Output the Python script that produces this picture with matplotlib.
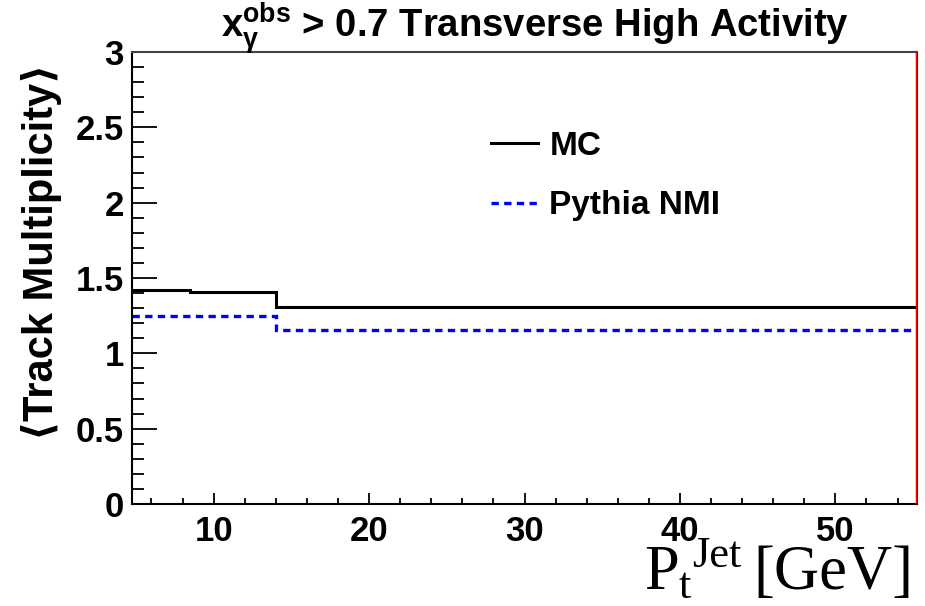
import matplotlib
matplotlib.use("Agg")
import matplotlib.pyplot as plt
from matplotlib.ticker import MultipleLocator

# bin edges in Pt(jet) and the mean track multiplicity per bin
bin_edges = [4.75, 8.5, 14.0, 55.25]
mc_values = [1.42, 1.41, 1.31]
nmi_values = [1.245, 1.245, 1.155]
red_edge = 55.25

x_range = (4.75, 55.25)
y_range = (0, 3)
x_ticks = [10, 20, 30, 40, 50]
y_ticks = [0, 0.5, 1, 1.5, 2, 2.5, 3]
y_ticklabels = ["0", "0.5", "1", "1.5", "2", "2.5", "3"]

plt.rcParams["font.family"] = ["Liberation Sans", "DejaVu Sans"]
plt.rcParams["mathtext.fontset"] = "custom"
plt.rcParams["mathtext.rm"] = "Liberation Sans:bold"
plt.rcParams["mathtext.it"] = "Liberation Sans:bold"
plt.rcParams["mathtext.bf"] = "Liberation Sans:bold"

fig = plt.figure(figsize=(9.25, 6.06), dpi=100)
ax = fig.add_axes([132 / 925, 1 - 504 / 606, 785 / 925, 452 / 606])

ax.stairs(mc_values, bin_edges, baseline=None, color="black", linewidth=2.2, label="MC")
ax.stairs(nmi_values, bin_edges, baseline=None, color="#0000ff", linewidth=2.4,
          linestyle=(0, (2.2, 1.6)), label="Pythia NMI")
ax.axvline(red_edge, color="#ff0000", linewidth=2.5, zorder=5)

ax.set_xlim(*x_range)
ax.set_ylim(*y_range)
ax.set_xticks(x_ticks)
ax.set_yticks(y_ticks)
ax.set_yticklabels(y_ticklabels)
ax.xaxis.set_minor_locator(MultipleLocator(2))
ax.yaxis.set_minor_locator(MultipleLocator(0.1))

ax.tick_params(axis="both", which="both", direction="in", top=False, right=False,
               labelsize=25, width=1.3)
ax.tick_params(axis="y", which="major", length=18, pad=6)
ax.tick_params(axis="y", which="minor", length=8.5)
ax.tick_params(axis="x", which="major", length=8, pad=8)
ax.tick_params(axis="x", which="minor", length=4.5)
for lab in ax.get_xticklabels() + ax.get_yticklabels():
    lab.set_fontweight("bold")

for side in ["left", "bottom"]:
    ax.spines[side].set_linewidth(1.5)
    ax.spines[side].set_color("black")
ax.spines["top"].set_linewidth(1.5)
ax.spines["top"].set_color("#444444")
ax.spines["right"].set_linewidth(1.5)
ax.spines["right"].set_color("#222222")

fig.text(535 / 925, 1 - 29 / 606,
         r"$\mathbf{x_{\gamma}^{obs}}$ > 0.7 Transverse High Activity",
         ha="center", va="center", fontsize=27.5, fontweight="bold")

fig.text(42 / 925, 1 - 252 / 606, "\u27e8Track Multiplicity\u27e9",
         rotation=90, ha="center", va="center", fontsize=30, fontweight="bold")

# axis title in serif: P, subscript t, superscript Jet, then the unit
xl_y = 17 / 606
xl = fig.text(644 / 925, xl_y, "P", ha="left", va="baseline",
              fontsize=45, family="Liberation Serif")
fig.canvas.draw()
r = fig.canvas.get_renderer()
bb = xl.get_window_extent(r)
sub = fig.text(bb.x1 / 925, xl_y - 9 / 606, "t", ha="left", va="baseline",
               fontsize=32, family="Liberation Serif")
bb2 = sub.get_window_extent(r)
sup = fig.text(bb2.x1 / 925 + 1 / 925, xl_y + 22 / 606, "Jet", ha="left", va="baseline",
               fontsize=32, family="Liberation Serif")
bb3 = sup.get_window_extent(r)
fig.text(bb3.x1 / 925 + 12 / 925, xl_y, "[GeV]", ha="left", va="baseline",
         fontsize=45, family="Liberation Serif")

leg = ax.legend(loc="upper left", bbox_to_anchor=(491 / 925, 1 - 131 / 606),
                bbox_transform=fig.transFigure, frameon=False, fontsize=24,
                handlelength=1.4, handletextpad=0.35, labelspacing=0.85,
                borderpad=0, borderaxespad=0)
for t in leg.get_texts():
    t.set_fontweight("bold")

fig.savefig("out.png", dpi=100)
